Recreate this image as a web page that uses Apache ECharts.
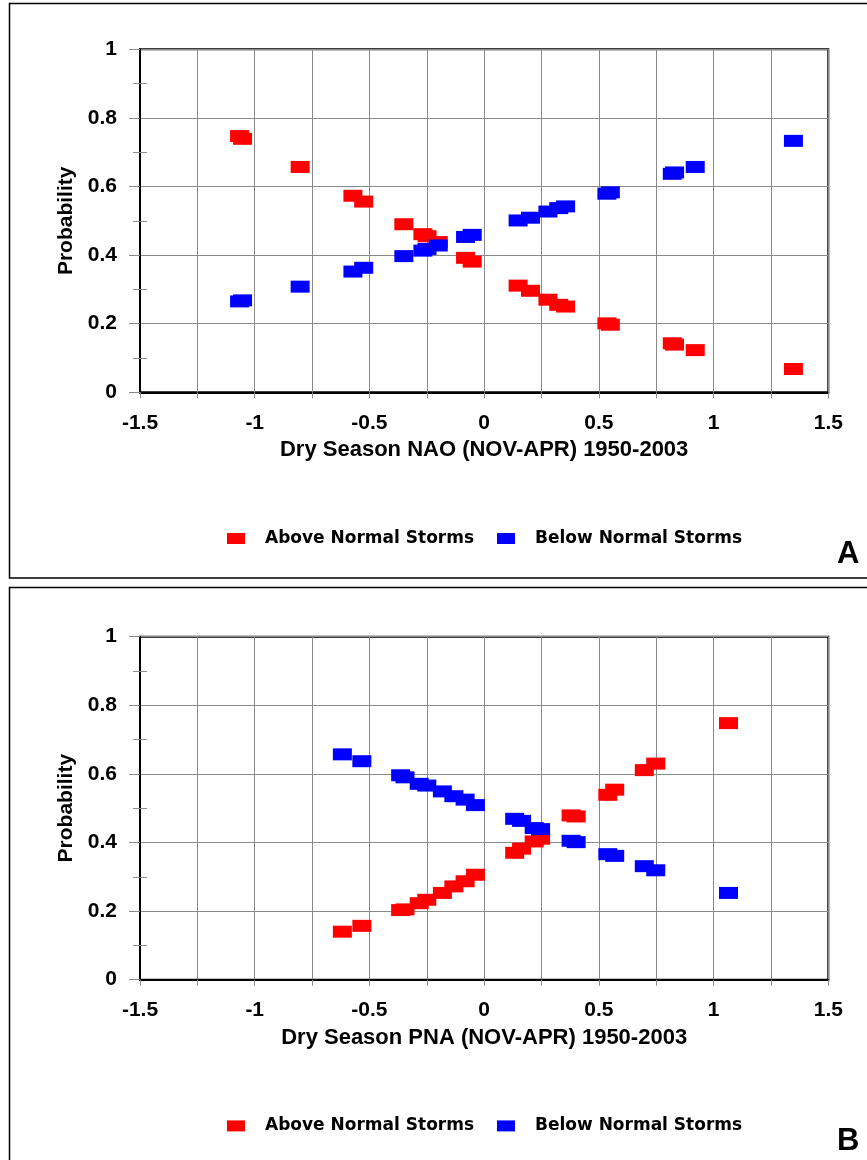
<!DOCTYPE html>
<html>
<head>
<meta charset="utf-8">
<script src="https://cdn.jsdelivr.net/npm/echarts@6/dist/echarts.min.js"></script>
<style>
html,body{margin:0;padding:0;background:#fff;}
#chart{width:867px;height:1160px;}
</style>
</head>
<body>
<div id="chart"></div>
<script>
// ---- Data ----
var seriesNames = ['Above Normal Storms', 'Below Normal Storms'];
var naoTitle = 'Dry Season NAO (NOV-APR) 1950-2003';
var pnaTitle = 'Dry Season PNA (NOV-APR) 1950-2003';
var yTitle = 'Probability';
var panelLetters = ['A', 'B'];

var naoX     = [-1.066, -1.053, -0.802, -0.572, -0.525, -0.350, -0.267, -0.249, -0.200, -0.081, -0.052, 0.148, 0.202, 0.278, 0.325, 0.355, 0.535, 0.550, 0.820, 0.830, 0.920, 1.348];
var naoAbove = [0.747, 0.739, 0.657, 0.573, 0.556, 0.490, 0.461, 0.455, 0.438, 0.392, 0.381, 0.311, 0.296, 0.270, 0.255, 0.250, 0.201, 0.197, 0.143, 0.139, 0.123, 0.068];
var naoBelow = [0.265, 0.268, 0.308, 0.352, 0.363, 0.397, 0.413, 0.418, 0.428, 0.453, 0.459, 0.501, 0.509, 0.527, 0.537, 0.542, 0.579, 0.583, 0.637, 0.641, 0.657, 0.733];

var pnaX     = [-0.618, -0.533, -0.364, -0.345, -0.283, -0.250, -0.182, -0.132, -0.083, -0.038, 0.133, 0.163, 0.218, 0.246, 0.379, 0.401, 0.539, 0.569, 0.698, 0.748, 1.065];
var pnaAbove = [0.140, 0.157, 0.203, 0.205, 0.223, 0.233, 0.253, 0.272, 0.287, 0.306, 0.370, 0.382, 0.403, 0.411, 0.479, 0.476, 0.539, 0.554, 0.611, 0.630, 0.748];
var pnaBelow = [0.657, 0.637, 0.596, 0.590, 0.571, 0.566, 0.549, 0.535, 0.525, 0.509, 0.469, 0.463, 0.442, 0.439, 0.405, 0.401, 0.366, 0.361, 0.331, 0.319, 0.253];

// ---- Chart ----
function pairs(xs, ys) { return xs.map(function (x, i) { return [x, ys[i]]; }); }

var RED = '#ff0000', BLUE = '#0000ff', GRID = '#8a8a8a';
var tickFont = { fontFamily: 'Liberation Sans', fontWeight: 'bold', fontSize: 21, color: '#000' };
var panelOffset = 587.4;
var plotTop = 49.3, plotH = 343, plotLeft = 140, plotW = 688.3;

function xAxisFor(gi, title) {
  return {
    gridIndex: gi, type: 'value', min: -1.5, max: 1.5, interval: 0.25,
    axisLine: { show: true, onZero: false, lineStyle: { color: '#000', width: 2 } },
    axisTick: { show: true, length: 6, lineStyle: { color: GRID, width: 1 } },
    axisLabel: Object.assign({
      margin: 20,
      formatter: function (v) {
        var d = v * 2;
        if (Math.abs(d - Math.round(d)) > 1e-6) return '';
        return String(Math.round(d) / 2);
      }
    }, tickFont),
    splitLine: { show: true, lineStyle: { color: GRID, width: 1 } },
    name: title, nameLocation: 'middle', nameGap: 47,
    nameTextStyle: { fontFamily: 'Liberation Sans', fontWeight: 'bold', fontSize: 22, color: '#000' }
  };
}
function yAxisFor(gi) {
  return {
    gridIndex: gi, type: 'value', min: 0, max: 1, interval: 0.2,
    axisLine: { show: true, onZero: false, lineStyle: { color: '#000', width: 2 } },
    axisTick: { show: true, length: 11, lineStyle: { color: GRID, width: 1 } },
    minorTick: { show: true, splitNumber: 2, length: 7, lineStyle: { color: GRID, width: 1 } },
    axisLabel: Object.assign({
      margin: 23,
      formatter: function (v) { return String(Math.round(v * 10) / 10); }
    }, tickFont),
    splitLine: { show: true, lineStyle: { color: GRID, width: 1 } },
    name: yTitle, nameLocation: 'middle', nameRotate: 90, nameGap: 62,
    nameTextStyle: { fontFamily: 'Liberation Sans', fontWeight: 'bold', fontSize: 21, color: '#000' }
  };
}
function yInnerFor(gi) {
  return {
    gridIndex: gi, type: 'value', min: 0, max: 1, interval: 0.2, position: 'left',
    axisLine: { show: false, onZero: false },
    axisTick: { show: true, inside: true, length: 0.01, lineStyle: { color: 'rgba(0,0,0,0)', width: 0 } },
    minorTick: { show: true, splitNumber: 2, length: 7, lineStyle: { color: GRID, width: 1 } },
    axisLabel: { show: false }, splitLine: { show: false }
  };
}
function legendFor(top) {
  return {
    top: top, left: 227, padding: 0, orient: 'horizontal',
    icon: 'rect', itemWidth: 18, itemHeight: 11, itemGap: 23,
    selectedMode: false,
    textStyle: { fontFamily: 'DejaVu Sans', fontWeight: 'bold', fontSize: 17, color: '#000', lineHeight: 20, padding: [0, 0, 0, 15] },
    data: seriesNames
  };
}
function scatter(name, color, xi, yi, data) {
  return {
    type: 'scatter', name: name, xAxisIndex: xi, yAxisIndex: yi,
    symbol: 'rect', symbolSize: [19, 12],
    itemStyle: { color: color, opacity: 1 },
    emphasis: { disabled: true },
    data: data
  };
}

var chart = echarts.init(document.getElementById('chart'), null, { renderer: 'canvas' });
chart.setOption({
  animation: false,
  backgroundColor: '#fff',
  grid: [
    { left: plotLeft, top: plotTop, width: plotW, height: plotH, show: true, borderColor: '#000', borderWidth: 2 },
    { left: plotLeft, top: plotTop + panelOffset, width: plotW, height: plotH, show: true, borderColor: '#000', borderWidth: 2 }
  ],
  xAxis: [xAxisFor(0, naoTitle), xAxisFor(1, pnaTitle)],
  yAxis: [yAxisFor(0), yAxisFor(1), yInnerFor(0), yInnerFor(1)],
  legend: [legendFor(528.5), legendFor(528.5 + panelOffset)],
  series: [
    scatter(seriesNames[0], RED, 0, 0, pairs(naoX, naoAbove)),
    scatter(seriesNames[1], BLUE, 0, 0, pairs(naoX, naoBelow)),
    scatter(seriesNames[0], RED, 1, 1, pairs(pnaX, pnaAbove)),
    scatter(seriesNames[1], BLUE, 1, 1, pairs(pnaX, pnaBelow))
  ],
  graphic: [
    { type: 'rect', shape: { x: 9.5, y: 3.5, width: 900, height: 574.5 }, style: { fill: 'none', stroke: '#000', lineWidth: 1.5 }, silent: true },
    { type: 'rect', shape: { x: 9.5, y: 587.5, width: 900, height: 600 }, style: { fill: 'none', stroke: '#000', lineWidth: 1.5 }, silent: true },
    { type: 'text', x: 837, y: 554, style: { text: panelLetters[0], font: 'bold 31px "Liberation Sans"', fill: '#000', textAlign: 'left', textVerticalAlign: 'middle', align: 'left', verticalAlign: 'middle' }, silent: true },
    { type: 'text', x: 837, y: 554 + panelOffset, style: { text: panelLetters[1], font: 'bold 31px "Liberation Sans"', fill: '#000', textAlign: 'left', textVerticalAlign: 'middle', align: 'left', verticalAlign: 'middle' }, silent: true }
  ]
});
</script>
</body>
</html>
